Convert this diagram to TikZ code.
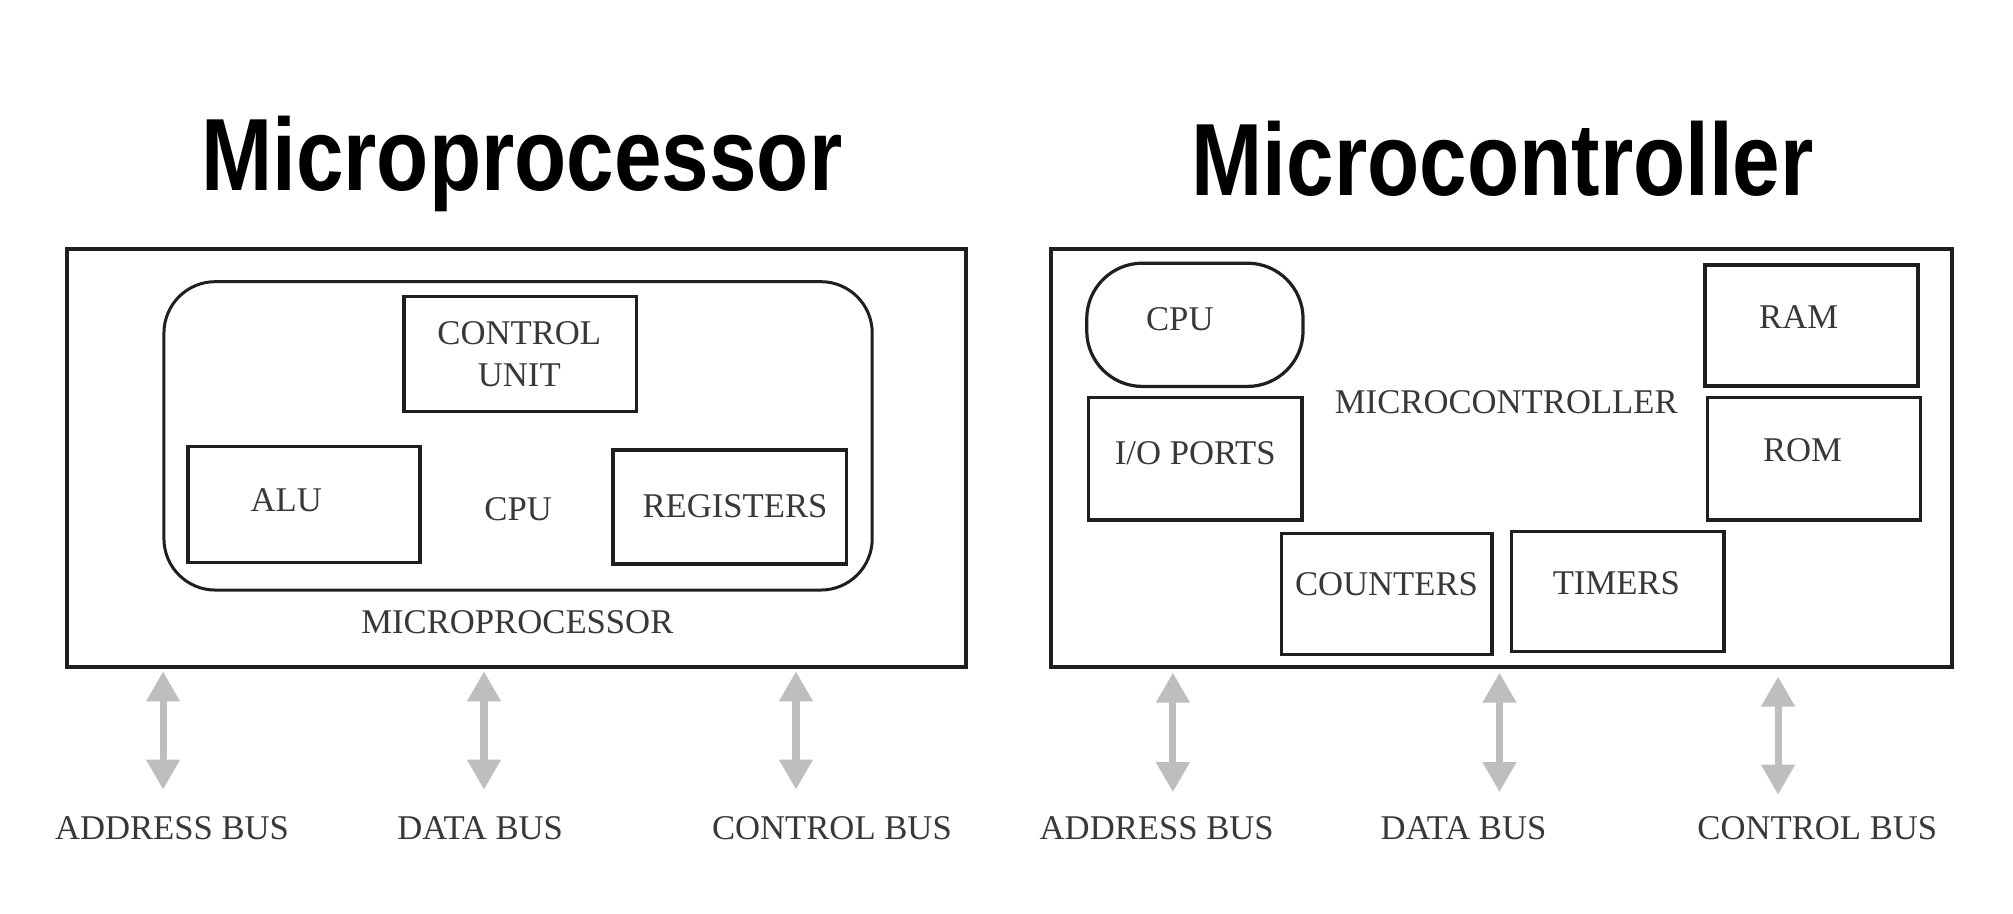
\documentclass[tikz,border=0pt]{standalone}
\usepackage{fontspec}
\setmainfont{Liberation Serif}
\newfontfamily\ttlfont{Liberation Sans}
\usetikzlibrary{arrows.meta,fit}
\definecolor{linecol}{gray}{0.12}
\definecolor{txtcol}{gray}{0.22}
\definecolor{arrowcol}{RGB}{190,190,190}
\tikzset{
  outerbox/.style={draw=linecol, line width=1.9pt, inner sep=0pt},
  blockbox/.style={draw=linecol, line width=1.6pt, inner sep=0pt},
  roundbox/.style={draw=linecol, line width=1.4pt, inner sep=0pt, rounded corners=24pt},
  pillbox/.style={draw=linecol, line width=1.5pt, inner sep=0pt, rounded corners=26pt},
  lbl/.style={text=txtcol, inner sep=0pt, font=\fontsize{16.2}{19.44}\selectfont, align=center},
  ttl/.style={text=black, inner sep=0pt, anchor=base},
  busarrow/.style={draw=arrowcol, line width=3.3pt,
     {Triangle[width=15pt,length=14pt]}-{Triangle[width=15pt,length=14pt]}}
}
\begin{document}
\begin{tikzpicture}[x=0.6pt,y=-0.6pt]
\fill[white] (0,0) rectangle (1568,711.2);
\useasboundingbox (0,0) rectangle (1568,711.2);

% ---------- titles ----------
\node[ttl] (t1) at (406.4,148) {\scalebox{0.832}[1]{\ttlfont\bfseries\fontsize{48}{50}\selectfont Microprocessor}};
\node[ttl] (t2) at (1170.5,152.5) {\scalebox{0.832}[1]{\ttlfont\bfseries\fontsize{48}{50}\selectfont Microcontroller}};

% ---------- left panel: microprocessor ----------
\node[outerbox, fit={(52,194) (752.4,519.3)}] (mp) {};
\node[roundbox, fit={(127.7,219.4) (679.4,459.6)}] (mpcpu) {};
\node[blockbox, fit={(314.7,231) (495.6,320.7)}] (cu) {};
\node[blockbox, fit={(146.3,348) (327,438.3)}] (alu) {};
\node[blockbox, fit={(477.6,350.5) (659.5,439.3)}] (reg) {};

\node[lbl] (cutxt) at (404.5,276) {CONTROL\\UNIT};
\node[lbl] (alutxt) at (223,389.5) {ALU};
\node[lbl] (cputxt) at (403.6,397) {CPU};
\node[lbl] (regtxt) at (572.5,394) {REGISTERS};
\node[lbl] (mptxt) at (403,485) {MICROPROCESSOR};

\node[lbl] (lab1) at (134,645) {ADDRESS BUS};
\node[lbl] (lab2) at (374,645) {DATA BUS};
\node[lbl] (lab3) at (648,645) {CONTROL BUS};

\coordinate (a1t) at (127,523);  \coordinate (a1b) at (127,615);
\coordinate (a2t) at (377,523);  \coordinate (a2b) at (377,615);
\coordinate (a3t) at (620,523);  \coordinate (a3b) at (620,615);
\draw[busarrow] (a1t) -- (a1b);
\draw[busarrow] (a2t) -- (a2b);
\draw[busarrow] (a3t) -- (a3b);

% ---------- right panel: microcontroller ----------
\node[outerbox, fit={(819,194) (1520.2,519.3)}] (mc) {};
\node[pillbox, fit={(846.5,205) (1015,301)}] (mccpu) {};
\node[blockbox, fit={(848,309.5) (1014,405)}] (io) {};
\node[blockbox, fit={(1328,206.4) (1494,300.7)}] (ram) {};
\node[blockbox, fit={(1330,309.8) (1496,405)}] (rom) {};
\node[blockbox, fit={(998,415.5) (1162,510)}] (cnt) {};
\node[blockbox, fit={(1177.5,414) (1343,507.6)}] (tim) {};

\node[lbl] (mccputxt) at (919,249) {CPU};
\node[lbl] (iotxt) at (931,353) {I/O PORTS};
\node[lbl] (mctxt) at (1173.3,313) {MICROCONTROLLER};
\node[lbl] (ramtxt) at (1401,246.7) {RAM};
\node[lbl] (romtxt) at (1404,350.5) {ROM};
\node[lbl] (cnttxt) at (1080,455) {COUNTERS};
\node[lbl] (timtxt) at (1259,454) {TIMERS};

\node[lbl] (lab4) at (901,645) {ADDRESS BUS};
\node[lbl] (lab5) at (1140,645) {DATA BUS};
\node[lbl] (lab6) at (1415.6,645) {CONTROL BUS};

\coordinate (a4t) at (913.6,524); \coordinate (a4b) at (913.6,617);
\coordinate (a5t) at (1168,524);  \coordinate (a5b) at (1168,617);
\coordinate (a6t) at (1385,527);  \coordinate (a6b) at (1385,619);
\draw[busarrow] (a4t) -- (a4b);
\draw[busarrow] (a5t) -- (a5b);
\draw[busarrow] (a6t) -- (a6b);
\end{tikzpicture}
\end{document}
